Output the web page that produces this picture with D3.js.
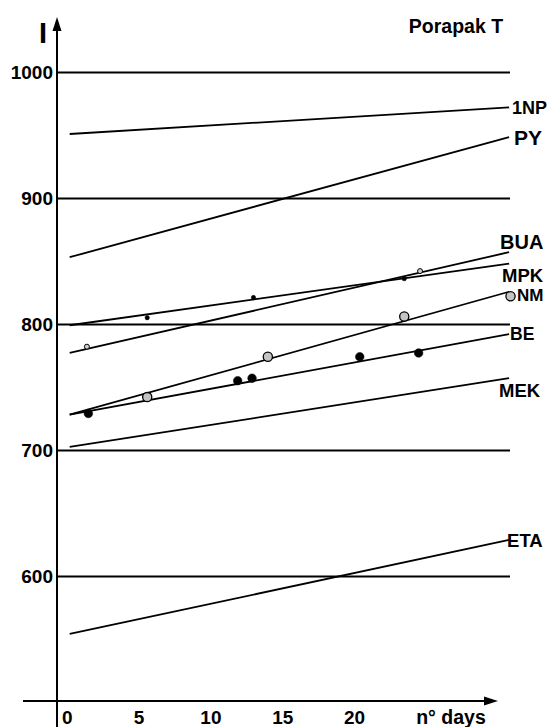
<!DOCTYPE html>
<html>
<head>
<meta charset="utf-8">
<script src="https://cdn.jsdelivr.net/npm/d3@7"></script>
<style>
  body { margin: 0; background: #fff; }
  svg text { font-family: "Liberation Sans", Arial, Helvetica, sans-serif; font-weight: bold; fill: #000; }
</style>
</head>
<body>
<svg id="chart" width="547" height="727"></svg>
<script>
// Retention index I of probe compounds versus column age (days), Porapak T

// Regression lines: index at the first and last day drawn
const seriesNames = ["1NP", "PY", "BUA", "MPK", "NM", "BE", "MEK", "ETA"];
const lineDays = [0.2, 30.8];
const lineStartValues = [950.8, 853, 777, 799, 728, 728, 702.4, 554];
const lineEndValues = [972, 948.4, 857, 848, 825.6, 792, 757, 628.6];

// Measured points
const beDays = [1.5, 11.9, 12.9, 20.4, 24.5];
const beValues = [729, 755, 757, 774, 777];
const nmDays = [5.6, 14.0, 23.5, 30.9];
const nmValues = [742, 774, 806, 822];
const mpkDays = [5.6, 13.0, 23.5];
const mpkValues = [805, 821, 836];
const buaDays = [1.4, 24.6];
const buaValues = [782, 842];

// Axis ticks
const yTicks = [600, 700, 800, 900, 1000];
const xTicks = [0, 5, 10, 15, 20];

// ---- layout & styling ----
const axisX = 57, axisY = 701, gridRight = 510;
const labelStyle = {
  "1NP": { dx: 3, dy: 0, size: 18 },
  "PY":  { dx: 5, dy: 0, size: 21 },
  "BUA": { dx: -9, dy: -10, size: 20 },
  "MPK": { dx: -7, dy: 11.5, size: 18.5 },
  "NM":  { dx: 8, dy: 3, size: 17 },
  "BE":  { dx: 1, dy: 0, size: 17.5 },
  "MEK": { dx: -10, dy: 12, size: 18.5 },
  "ETA": { dx: -2, dy: 0, size: 18.5 }
};

const svg = d3.select("#chart");

const x = d3.scaleLinear().domain([0, 20]).range([66.8, 354]);
const y = d3.scaleLinear().domain([500, 1000]).range([702, 72]);

// horizontal reference lines with index labels
const yAxis = svg.append("g")
  .attr("transform", `translate(${axisX},0)`)
  .call(d3.axisLeft(y).tickValues(yTicks).tickFormat(d3.format("d"))
    .tickSize(-(gridRight - axisX)).tickPadding(4));
yAxis.select(".domain").remove();
yAxis.selectAll(".tick line").attr("stroke", "#000").attr("stroke-width", 2);
yAxis.selectAll(".tick text")
  .attr("font-size", 19)
  .style("font-family", "'Liberation Sans', Arial, sans-serif")
  .style("font-weight", "bold");

// day labels
const xAxis = svg.append("g")
  .attr("transform", `translate(0,${axisY})`)
  .call(d3.axisBottom(x).tickValues(xTicks).tickFormat(d3.format("d")).tickSize(0).tickPadding(9.5));
xAxis.select(".domain").remove();
xAxis.selectAll(".tick text")
  .attr("font-size", 19)
  .style("font-family", "'Liberation Sans', Arial, sans-serif")
  .style("font-weight", "bold");

// axis lines with arrowheads
svg.append("line").attr("x1", axisX).attr("y1", 727).attr("x2", axisX).attr("y2", 26)
  .attr("stroke", "#000").attr("stroke-width", 2);
svg.append("path").attr("d", `M${axisX},17 L${axisX - 4.5},31 L${axisX + 4.5},31 Z`).attr("fill", "#000");
svg.append("line").attr("x1", 23).attr("y1", axisY).attr("x2", 488).attr("y2", axisY)
  .attr("stroke", "#000").attr("stroke-width", 2);
svg.append("path").attr("d", `M498,${axisY} L484,${axisY - 4.5} L484,${axisY + 4.5} Z`).attr("fill", "#000");

// axis titles
svg.append("text").attr("x", 43).attr("y", 43).attr("text-anchor", "middle")
  .attr("font-size", 29).text("I");
svg.append("text").attr("x", 451).attr("y", 724).attr("text-anchor", "middle")
  .attr("font-size", 19.5).text("n° days");
svg.append("text").attr("x", 456).attr("y", 33).attr("text-anchor", "middle")
  .attr("font-size", 19.5).text("Porapak T");

// regression lines
const lineGen = d3.line().x(d => x(d[0])).y(d => y(d[1]));
seriesNames.forEach((name, i) => {
  const pts = [[lineDays[0], lineStartValues[i]], [lineDays[1], lineEndValues[i]]];
  svg.append("path").attr("d", lineGen(pts))
    .attr("fill", "none").attr("stroke", "#000").attr("stroke-width", 1.8);
  const st = labelStyle[name];
  svg.append("text")
    .attr("x", x(lineDays[1]) + st.dx)
    .attr("y", y(lineEndValues[i]) + st.dy + st.size * 0.36)
    .attr("font-size", st.size)
    .text(name);
});

// measured points
function drawPoints(days, values, r, fill, stroke, sw) {
  svg.append("g").selectAll("circle")
    .data(days.map((d, i) => [d, values[i]]))
    .join("circle")
    .attr("cx", d => x(d[0])).attr("cy", d => y(d[1])).attr("r", r)
    .attr("fill", fill).attr("stroke", stroke).attr("stroke-width", sw);
}
drawPoints(beDays, beValues, 4.3, "#000", "#000", 0.5);
drawPoints(nmDays, nmValues, 4.6, "#c4c4c4", "#000", 1.3);
drawPoints(mpkDays, mpkValues, 2.2, "#000", "#000", 0.5);
drawPoints(buaDays, buaValues, 2.5, "#cfcfcf", "#000", 1);
</script>
</body>
</html>
